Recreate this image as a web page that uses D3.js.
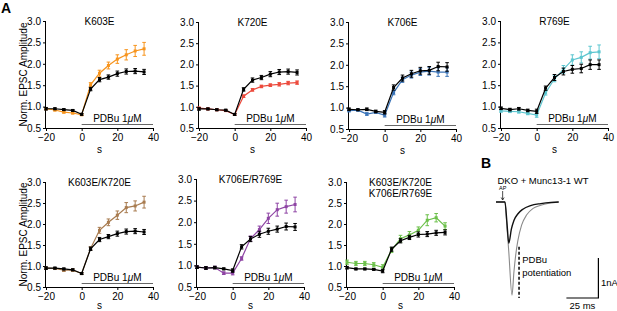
<!DOCTYPE html>
<html>
<head>
<meta charset="utf-8">
<script src="https://cdn.jsdelivr.net/npm/d3@7"></script>
<style>
  html, body { margin: 0; padding: 0; background: #fff; }
  svg { display: block; font-family: "Liberation Sans", Arial, Helvetica, sans-serif; }
</style>
</head>
<body>
<svg id="chart" width="617" height="311"></svg>
<script>
// ---------- DATA ----------
const timeS = [-20, -15, -10, -5, 0, 5, 10, 15, 20, 25, 30, 35];
const xTicks = [-20, 0, 20, 40];
const yTicks = [0.5, 1.0, 1.5, 2.0, 2.5, 3.0];

const ctrl1Mean = [0.95, 0.95, 0.93, 0.91, 0.82, 1.41, 1.63, 1.69, 1.77, 1.82, 1.83, 1.81];
const ctrl1Err  = [0.03, 0.02, 0.02, 0.02, 0.02, 0.04, 0.05, 0.05, 0.06, 0.06, 0.06, 0.06];
const k603eMean = [0.95, 0.92, 0.87, 0.85, 0.81, 1.51, 1.78, 1.96, 2.11, 2.21, 2.30, 2.35];
const k603eErr  = [0.02, 0.02, 0.02, 0.02, 0.02, 0.05, 0.07, 0.08, 0.10, 0.12, 0.13, 0.15];

const ctrl2Mean = [0.95, 0.95, 0.93, 0.92, 0.82, 1.41, 1.63, 1.69, 1.77, 1.82, 1.83, 1.81];
const ctrl2Err  = [0.03, 0.02, 0.02, 0.02, 0.02, 0.04, 0.05, 0.05, 0.06, 0.06, 0.06, 0.06];
const k720eMean = [0.97, 0.95, 0.93, 0.91, 0.82, 1.25, 1.40, 1.48, 1.51, 1.53, 1.56, 1.57];
const k720eErr  = [0.02, 0.02, 0.02, 0.02, 0.02, 0.03, 0.03, 0.03, 0.03, 0.04, 0.04, 0.04];

const ctrl3Mean = [0.96, 0.95, 0.96, 0.91, 0.89, 1.47, 1.69, 1.79, 1.86, 1.87, 1.96, 1.95];
const ctrl3Err  = [0.03, 0.02, 0.03, 0.03, 0.04, 0.06, 0.07, 0.08, 0.08, 0.09, 0.10, 0.10];
const k706eMean = [0.93, 0.94, 0.85, 0.89, 0.82, 1.35, 1.65, 1.76, 1.83, 1.85, 1.83, 1.83];
const k706eErr  = [0.03, 0.02, 0.03, 0.02, 0.04, 0.05, 0.06, 0.07, 0.08, 0.09, 0.10, 0.10];

const ctrl4Mean = [0.96, 0.93, 0.95, 0.91, 0.89, 1.43, 1.68, 1.82, 1.87, 1.89, 1.98, 1.98];
const ctrl4Err  = [0.03, 0.03, 0.03, 0.03, 0.05, 0.05, 0.07, 0.08, 0.09, 0.10, 0.11, 0.11];
const r769eMean = [0.90, 0.89, 0.88, 0.84, 0.80, 1.32, 1.65, 1.87, 2.09, 2.15, 2.26, 2.28];
const r769eErr  = [0.03, 0.03, 0.03, 0.03, 0.05, 0.05, 0.07, 0.09, 0.12, 0.13, 0.15, 0.16];

const ctrl5Mean = [0.95, 0.95, 0.93, 0.91, 0.82, 1.41, 1.63, 1.70, 1.77, 1.82, 1.83, 1.81];
const ctrl5Err  = [0.03, 0.02, 0.02, 0.02, 0.02, 0.04, 0.05, 0.05, 0.06, 0.06, 0.06, 0.06];
const k603eK720eMean = [0.95, 0.94, 0.90, 0.90, 0.82, 1.42, 1.85, 2.04, 2.21, 2.39, 2.43, 2.52];
const k603eK720eErr  = [0.02, 0.02, 0.03, 0.03, 0.02, 0.04, 0.07, 0.08, 0.10, 0.12, 0.12, 0.14];

const ctrl6Mean = [0.96, 0.94, 0.95, 0.92, 0.88, 1.43, 1.61, 1.72, 1.79, 1.84, 1.90, 1.89];
const ctrl6Err  = [0.03, 0.03, 0.03, 0.02, 0.04, 0.05, 0.06, 0.07, 0.07, 0.07, 0.08, 0.08];
const k706eR769eMean = [0.96, 0.94, 0.95, 0.82, 0.82, 1.16, 1.62, 1.83, 2.09, 2.29, 2.36, 2.41];
const k706eR769eErr  = [0.03, 0.03, 0.03, 0.03, 0.04, 0.04, 0.06, 0.08, 0.12, 0.15, 0.15, 0.17];

const ctrl7Mean = [0.96, 0.93, 0.93, 0.92, 0.88, 1.40, 1.60, 1.68, 1.75, 1.76, 1.79, 1.80];
const ctrl7Err  = [0.03, 0.02, 0.02, 0.02, 0.04, 0.05, 0.05, 0.05, 0.06, 0.06, 0.06, 0.06];
const quadMean = [1.09, 1.06, 1.06, 1.03, 0.97, 1.38, 1.65, 1.74, 1.85, 2.09, 2.15, 1.95];
const quadErr  = [0.05, 0.05, 0.05, 0.05, 0.06, 0.06, 0.08, 0.08, 0.08, 0.13, 0.10, 0.08];

// Panel B traces (time in ms, current in nA)
const wtTimeMs    = [0, 7, 8.5, 10, 12, 14, 17, 21, 27, 35, 43, 49];
const wtCurrent   = [0, 0, -0.5, -1.03, -0.68, -0.46, -0.30, -0.18, -0.09, -0.04, -0.01, 0];
const pdbuTimeMs  = [0, 7, 8.5, 10, 12.5, 14, 15.5, 17, 20, 24, 29, 35, 42, 49];
const pdbuCurrent = [0, 0, -0.6, -1.25, -2.33, -1.75, -1.3, -0.98, -0.58, -0.32, -0.16, -0.08, -0.03, 0];

// ---------- LAYOUT ----------
const panels = [
  { title: ["K603E"], left: 46, top: 21, bottom: 128, ctrl: ctrl1Mean, ctrlErr: ctrl1Err, mut: k603eMean, mutErr: k603eErr, color: "#f7941d", ylab: true },
  { title: ["K720E"], left: 199, top: 22, bottom: 128, ctrl: ctrl2Mean, ctrlErr: ctrl2Err, mut: k720eMean, mutErr: k720eErr, color: "#ec4a3c", ylab: false },
  { title: ["K706E"], left: 349, top: 22, bottom: 129, ctrl: ctrl3Mean, ctrlErr: ctrl3Err, mut: k706eMean, mutErr: k706eErr, color: "#3b74b8", ylab: false },
  { title: ["R769E"], left: 501, top: 21, bottom: 128, ctrl: ctrl4Mean, ctrlErr: ctrl4Err, mut: r769eMean, mutErr: r769eErr, color: "#5cc6d0", ylab: false },
  { title: ["K603E/K720E"], left: 46, top: 182, bottom: 287, ctrl: ctrl5Mean, ctrlErr: ctrl5Err, mut: k603eK720eMean, mutErr: k603eK720eErr, color: "#a87b4f", ylab: true },
  { title: ["K706E/R769E"], left: 197, top: 179, bottom: 287, ctrl: ctrl6Mean, ctrlErr: ctrl6Err, mut: k706eR769eMean, mutErr: k706eR769eErr, color: "#8e44a4", ylab: false },
  { title: ["K603E/K720E", "K706E/R769E"], left: 347, top: 182, bottom: 287, ctrl: ctrl7Mean, ctrlErr: ctrl7Err, mut: quadMean, mutErr: quadErr, color: "#6cc04a", ylab: false }
];
const plotW = 107;
const FS = 10;

const svg = d3.select("#chart");

panels.forEach(p => {
  const x = d3.scaleLinear().domain([-20, 40]).range([p.left, p.left + plotW]);
  const y = d3.scaleLinear().domain([0.5, 3.0]).range([p.bottom, p.top]);
  const g = svg.append("g");

  // axes
  const yAxis = d3.axisLeft(y).tickValues(yTicks).tickFormat(d3.format(".1f")).tickSize(3).tickPadding(2);
  const gy = g.append("g").attr("transform", `translate(${p.left},0)`).call(yAxis);
  const xAxis = d3.axisBottom(x).tickValues(xTicks).tickFormat(d3.format("d")).tickSize(3).tickPadding(3);
  const gx = g.append("g").attr("transform", `translate(0,${p.bottom})`).call(xAxis);
  [gx, gy].forEach(a => {
    a.select(".domain").attr("stroke", "#000").attr("stroke-width", 1);
    a.selectAll(".tick line").attr("stroke", "#000");
    a.selectAll("text").attr("font-size", FS).attr("fill", "#000")
      .attr("font-family", "Liberation Sans, Arial, sans-serif");
  });
  gx.select(".domain").attr("d", `M${x(-20)},0.5H${x(40)}`);
  gy.select(".domain").attr("d", `M-0.5,${y(0.5)}V${y(3.0)}`);

  // x label
  g.append("text").attr("x", x(10)).attr("y", Math.min(p.bottom + 25, 308.5))
    .attr("text-anchor", "middle").attr("font-size", FS).text("s");

  // y label
  if (p.ylab) {
    g.append("text")
      .attr("transform", `translate(${p.left - 19},${(p.top + p.bottom) / 2}) rotate(-90)`)
      .attr("text-anchor", "middle").attr("font-size", FS).text("Norm. EPSC Amplitude");
  }

  // title
  p.title.forEach((t, i) => {
    g.append("text").attr("x", x(10)).attr("y", p.top + 4 + i * 11)
      .attr("text-anchor", "middle").attr("font-size", FS).text(t);
  });

  // PDBu bar
  g.append("line").attr("x1", x(0)).attr("x2", x(40))
    .attr("y1", p.bottom - 3.5).attr("y2", p.bottom - 3.5)
    .attr("stroke", "#666").attr("stroke-width", 1);
  const pt = g.append("text").attr("x", x(20)).attr("y", p.bottom - 6.5)
    .attr("text-anchor", "middle").attr("font-size", FS);
  pt.append("tspan").text("PDBu 1");
  pt.append("tspan").attr("font-style", "italic").text("μ");
  pt.append("tspan").text("M");

  // series
  const drawSeries = (vals, errs, color, sw) => {
    const pts = timeS.map((t, i) => ({ t, v: vals[i], e: errs[i] }));
    const line = d3.line().x(d => x(d.t)).y(d => y(d.v));
    g.append("path").datum(pts).attr("d", line)
      .attr("fill", "none").attr("stroke", color).attr("stroke-width", sw);
    const eb = g.append("g").attr("stroke", color).attr("stroke-width", 1);
    pts.forEach(d => {
      eb.append("line").attr("x1", x(d.t)).attr("x2", x(d.t)).attr("y1", y(d.v - d.e)).attr("y2", y(d.v + d.e));
      eb.append("line").attr("x1", x(d.t) - 1.8).attr("x2", x(d.t) + 1.8).attr("y1", y(d.v - d.e)).attr("y2", y(d.v - d.e));
      eb.append("line").attr("x1", x(d.t) - 1.8).attr("x2", x(d.t) + 1.8).attr("y1", y(d.v + d.e)).attr("y2", y(d.v + d.e));
    });
    g.append("g").selectAll("rect").data(pts).join("rect")
      .attr("x", d => x(d.t) - 1.5).attr("y", d => y(d.v) - 1.5)
      .attr("width", 3).attr("height", 3).attr("fill", color);
  };
  drawSeries(p.mut, p.mutErr, p.color, 1.2);
  drawSeries(p.ctrl, p.ctrlErr, "#000", 1.2);
});

// Panel letters
svg.append("text").attr("x", 1).attr("y", 13).attr("font-size", 14).attr("font-weight", "bold").text("A");
svg.append("text").attr("x", 481).attr("y", 168).attr("font-size", 14).attr("font-weight", "bold").text("B");

// ---------- Panel B ----------
const bx = d3.scaleLinear().domain([0, 25]).range([496, 528]);
const by = d3.scaleLinear().domain([0, -1]).range([202, 242]);
const gb = svg.append("g");

gb.append("text").attr("x", 543).attr("y", 184).attr("text-anchor", "middle")
  .attr("font-size", 9.5).text("DKO + Munc13-1 WT");

const traceLine = d3.line().x(d => bx(d[0])).y(d => by(d[1])).curve(d3.curveMonotoneX);
gb.append("path").datum(pdbuTimeMs.map((t, i) => [t, pdbuCurrent[i]])).attr("d", traceLine)
  .attr("fill", "none").attr("stroke", "#8a8a8a").attr("stroke-width", 1.1);
gb.append("path").datum(wtTimeMs.map((t, i) => [t, wtCurrent[i]])).attr("d", traceLine)
  .attr("fill", "none").attr("stroke", "#111").attr("stroke-width", 1.4);

// AP marker
gb.append("text").attr("x", bx(5.2)).attr("y", 190).attr("text-anchor", "middle")
  .attr("font-size", 5.5).text("AP");
gb.append("line").attr("x1", bx(5.2)).attr("x2", bx(5.2)).attr("y1", 191).attr("y2", 199.5)
  .attr("stroke", "#000").attr("stroke-width", 0.7);
gb.append("path").attr("d", `M${bx(5.2) - 1.5},197.5L${bx(5.2)},200L${bx(5.2) + 1.5},197.5`)
  .attr("fill", "none").attr("stroke", "#000").attr("stroke-width", 0.7);

// dashed potentiation line
gb.append("line").attr("x1", bx(18)).attr("x2", bx(18)).attr("y1", by(-1.12)).attr("y2", by(-2.4))
  .attr("stroke", "#000").attr("stroke-width", 1.5).attr("stroke-dasharray", "3,2");
gb.append("text").attr("x", bx(20.5)).attr("y", 263).attr("font-size", 9.5).text("PDBu");
gb.append("text").attr("x", bx(20.5)).attr("y", 276).attr("font-size", 9.5).text("potentiation");

// scale bars
gb.append("path").attr("d", `M${bx(55)},${by(-2.4)}H${bx(80)}V${by(-1.4)}`)
  .attr("fill", "none").attr("stroke", "#000").attr("stroke-width", 1.2);
gb.append("text").attr("x", bx(82)).attr("y", 286).attr("font-size", 9.5).text("1nA");
gb.append("text").attr("x", bx(67.5)).attr("y", 309).attr("text-anchor", "middle")
  .attr("font-size", 9.5).text("25 ms");
</script>
</body>
</html>
